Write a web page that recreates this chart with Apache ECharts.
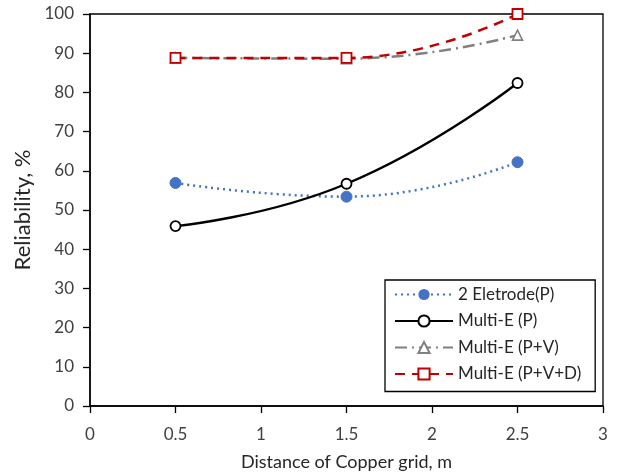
<!DOCTYPE html>
<html>
<head>
<meta charset="utf-8">
<script src="https://cdn.jsdelivr.net/npm/echarts@6/dist/echarts.min.js"></script>
<style>
  html, body { margin: 0; padding: 0; background: #fff; }
  #chart { width: 620px; height: 475px; }
</style>
</head>
<body>
<div id="chart"></div>
<script>
// Reliability versus copper-grid distance for four electrode setups
const distances = [0.5, 1.5, 2.5];
const twoElectrodeP = [56.9, 53.4, 62.2];
const multiEP = [45.9, 56.7, 82.4];
const multiEPV = [88.8, 88.6, 94.6];
const multiEPVD = [88.8, 88.8, 100];
const xTicks = { min: 0, max: 3, step: 0.5 };
const yTicks = { min: 0, max: 100, step: 10 };

const pairs = vals => distances.map((d, i) => [d, vals[i]]);
const FONT = 'Lato, "Open Sans", sans-serif';

const chart = echarts.init(document.getElementById('chart'));
chart.setOption({
  animation: false,
  backgroundColor: '#fff',
  grid: {
    left: 90, right: 17, top: 14, bottom: 69,
    outerBoundsMode: 'none', containLabel: false,
    show: true, borderColor: '#000', borderWidth: 1.3
  },
  xAxis: {
    type: 'value', min: xTicks.min, max: xTicks.max, interval: xTicks.step,
    name: 'Distance of Copper grid, m', nameLocation: 'middle', nameGap: 47,
    nameTextStyle: { fontFamily: FONT, fontSize: 18, color: '#262626' },
    axisLine: { lineStyle: { color: '#000', width: 1.5 } },
    axisTick: { show: true, length: 7, lineStyle: { color: '#000', width: 1.3 } },
    axisLabel: { fontFamily: FONT, fontSize: 17, color: '#404040', margin: 20 },
    splitLine: { show: false }
  },
  yAxis: {
    type: 'value', min: yTicks.min, max: yTicks.max, interval: yTicks.step,
    name: 'Reliability, %', nameLocation: 'middle', nameGap: 54,
    nameTextStyle: { fontFamily: FONT, fontSize: 22, color: '#262626' },
    axisLine: { show: true, lineStyle: { color: '#000', width: 1.5 } },
    axisTick: { show: true, length: 7, lineStyle: { color: '#000', width: 1.3 } },
    axisLabel: { fontFamily: FONT, fontSize: 17, color: '#404040', margin: 16 },
    splitLine: { show: false }
  },
  legend: {
    orient: 'vertical', left: 385, top: 280,
    itemWidth: 58, itemHeight: 14, itemGap: 9.5,
    padding: [6, 14, 9, 9],
    borderColor: '#000', borderWidth: 1.3, backgroundColor: '#fff',
    textStyle: { fontFamily: FONT, fontSize: 17, color: '#262626' },
    data: ['2 Eletrode(P)', 'Multi-E (P)', 'Multi-E (P+V)', 'Multi-E (P+V+D)']
  },
  series: [
    {
      name: '2 Eletrode(P)', type: 'line', smooth: 0.5, data: pairs(twoElectrodeP),
      symbol: 'circle', symbolSize: 11,
      itemStyle: { color: '#4472C4', borderColor: '#4472C4' },
      lineStyle: { color: '#4472C4', width: 2.5, type: [2, 4] }
    },
    {
      name: 'Multi-E (P)', type: 'line', smooth: 0.5, data: pairs(multiEP),
      symbol: 'circle', symbolSize: 10,
      itemStyle: { color: '#fff', borderColor: '#000', borderWidth: 1.8 },
      lineStyle: { color: '#000', width: 2.4 }
    },
    {
      name: 'Multi-E (P+V)', type: 'line', smooth: 0.5, data: pairs(multiEPV),
      symbol: 'triangle', symbolSize: 10,
      itemStyle: { color: '#fff', borderColor: '#808080', borderWidth: 1.6 },
      lineStyle: { color: '#808080', width: 2.5, type: [12, 5, 2, 5] }
    },
    {
      name: 'Multi-E (P+V+D)', type: 'line', smooth: 0.5, data: pairs(multiEPVD),
      symbol: 'rect', symbolSize: 10,
      itemStyle: { color: '#fff', borderColor: '#C00000', borderWidth: 1.8 },
      lineStyle: { color: '#C00000', width: 2.5, type: [10, 7] }
    }
  ]
});
</script>
</body>
</html>
